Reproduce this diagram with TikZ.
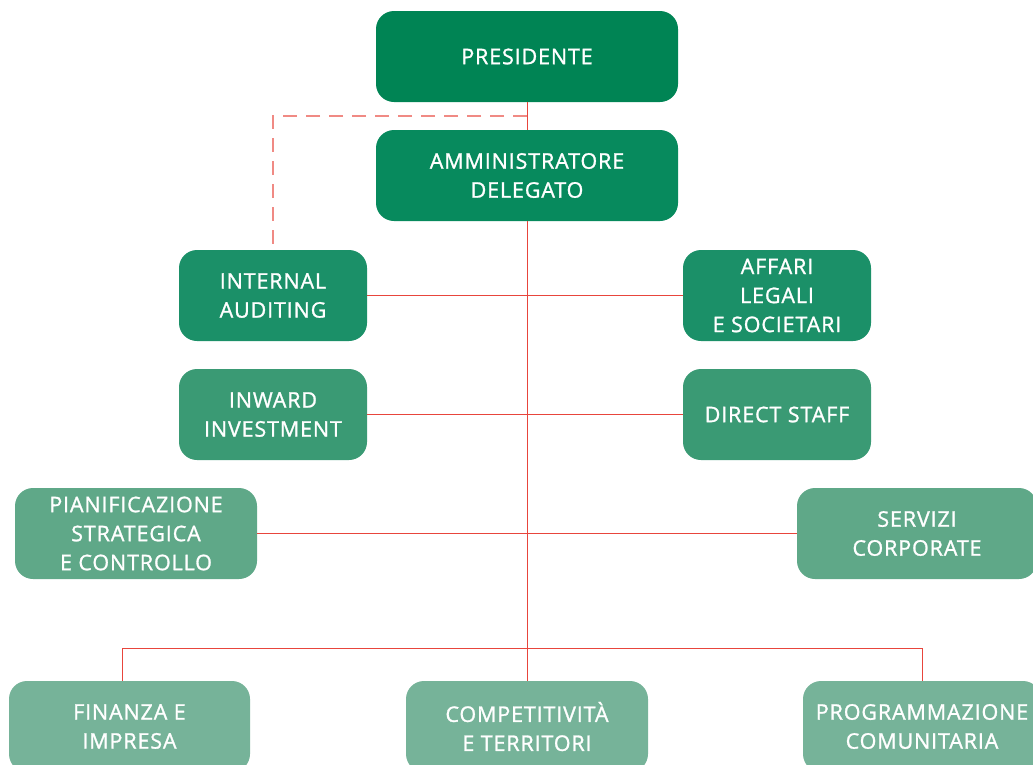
\documentclass[tikz,border=0pt]{standalone}
\usepackage{fontspec}
\setmainfont{Open Sans}[LetterSpace = 4, FakeBold = 1.2]
\usepackage{tikz}
\usetikzlibrary{positioning}
\definecolor{gpres}{HTML}{008454}
\definecolor{gamm}{HTML}{078A5D}
\definecolor{grow1}{HTML}{1B9068}
\definecolor{grow2}{HTML}{3A9A74}
\definecolor{grow3}{HTML}{5FA888}
\definecolor{grow4}{HTML}{76B399}
\definecolor{mred}{HTML}{E8453C}
\definecolor{msalmon}{HTML}{F08A84}
\tikzset{box/.style = {rounded corners = 18pt, text = white, align = center,
                       minimum height = 91pt, inner sep = 0,
                       font = \fontsize{21.5}{29}\selectfont}}
\tikzset{redline/.style = {mred, line width = 1pt}}
\tikzset{dashline/.style = {msalmon, line width = 1.6pt, dash pattern = on 14pt off 9pt}}

\begin{document}
\begin{tikzpicture}[x = 1pt, y = -1pt]
    \useasboundingbox (0, 0) rectangle (1033, 764);

    \node [box, fill = gpres, minimum width = 302pt] (pres) at (527, 56.5) {PRESIDENTE};
    \node [box, fill = gamm, minimum width = 302pt] (amm) at (527, 175.5) {AMMINISTRATORE\\DELEGATO};

    \node [box, fill = grow1, minimum width = 188pt] (intaud) at (273, 295.5) {INTERNAL\\AUDITING};
    \node [box, fill = grow1, minimum width = 188pt] (legali) at (777, 295.5) {AFFARI\\LEGALI\\E SOCIETARI};
    \node [box, fill = grow2, minimum width = 188pt] (inward) at (273, 414.5) {INWARD\\INVESTMENT};
    \node [box, fill = grow2, minimum width = 188pt] (staff) at (777, 414.5) {DIRECT STAFF};
    \node [box, fill = grow3, minimum width = 242pt] (pianif) at (136, 533.5) {PIANIFICAZIONE\\STRATEGICA\\E CONTROLLO};
    \node [box, fill = grow3, minimum width = 240pt] (servizi) at (917, 533.5) {SERVIZI\\CORPORATE};

    \node [box, fill = grow4, minimum width = 241pt] (fin) at (129.5, 726.5) {FINANZA E\\IMPRESA};
    \node [box, fill = grow4, minimum width = 242pt] (comp) at (527, 726.5) {COMPETITIVITÀ\\E TERRITORI};
    \node [box, fill = grow4, minimum width = 238pt] (prog) at (922, 726.5) {PROGRAMMAZIONE\\COMUNITARIA};

    \coordinate (dash) at (527, 116);
    \coordinate (lbar) at (122, 648);

    \draw [redline] (pres) -- (amm);
    \draw [redline] (amm) -- (comp);
    \draw [redline] (intaud) -- (legali);
    \draw [redline] (inward) -- (staff);
    \draw [redline] (pianif) -- (servizi);
    \draw [redline] (lbar |- fin.north) -- (lbar) -| (prog);
    \draw [dashline] (dash) -| (intaud);
  \end{tikzpicture}
\end{document}
